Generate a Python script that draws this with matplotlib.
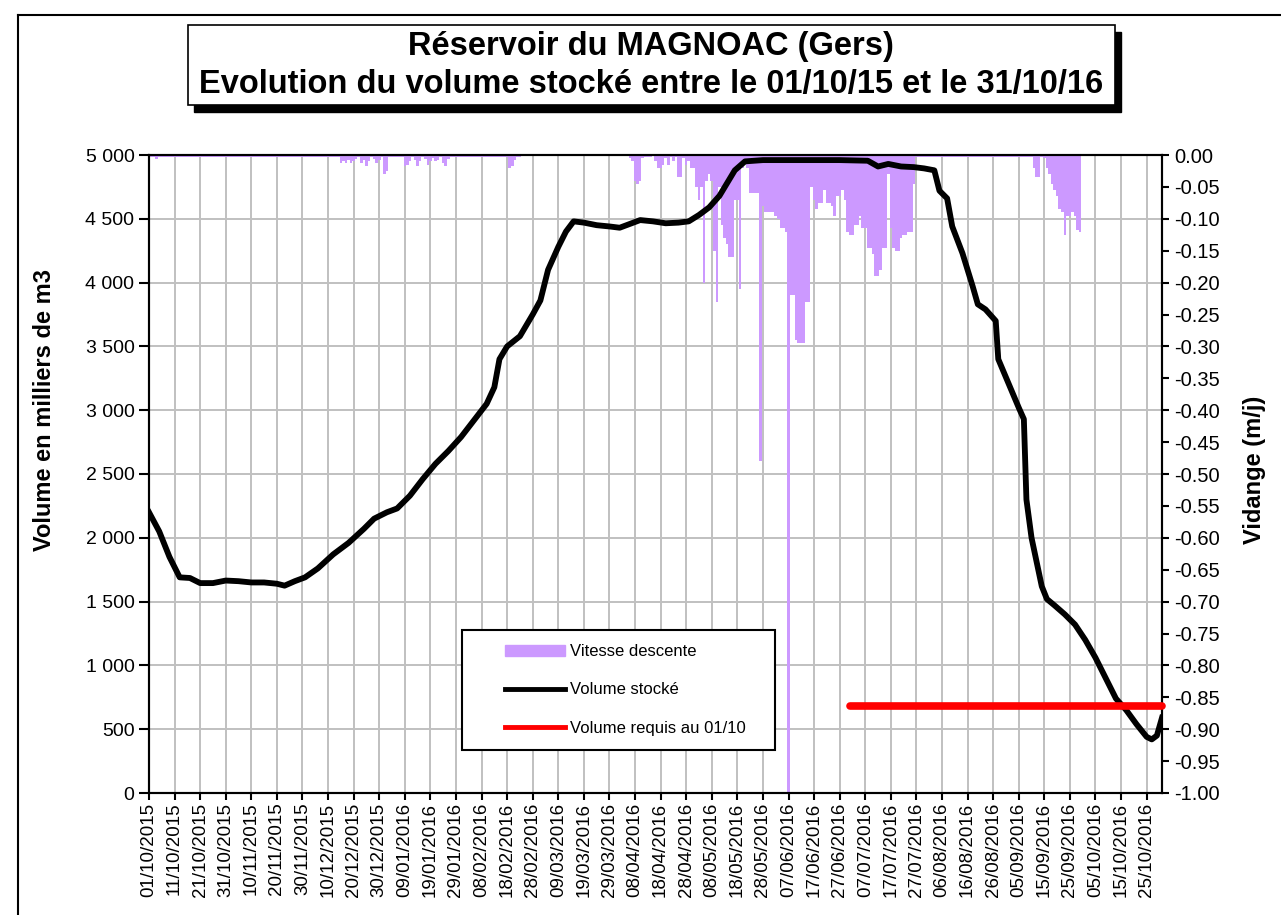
import matplotlib
matplotlib.use('Agg')
import matplotlib.pyplot as plt
import matplotlib.dates as mdates
from matplotlib.patches import Patch, Rectangle
from matplotlib.lines import Line2D
from matplotlib.legend_handler import HandlerPatch, HandlerLine2D
import numpy as np
import pandas as pd

plt.rcParams['font.family'] = ['Liberation Sans', 'DejaVu Sans']

debut = pd.Timestamp('2015-10-01')
fin = pd.Timestamp('2016-10-31')

# vitesse de descente (m/j), une valeur par jour depuis le 01/10/2015 (10 jours par ligne)
vidange = [
    -0.003, -0.003, -0.003, -0.006, -0.003, -0.003, -0.003, -0.003, -0.003, -0.003,
    -0.003, -0.003, -0.003, -0.003, -0.003, -0.003, -0.003, -0.003, -0.003, -0.003,
    -0.003, -0.003, -0.003, -0.003, -0.003, -0.003, -0.003, -0.003, -0.003, -0.003,
    -0.003, -0.003, -0.003, -0.003, -0.003, -0.003, -0.003, -0.003, -0.003, -0.003,
    -0.003, -0.003, -0.003, -0.003, -0.003, -0.003, -0.003, -0.003, -0.003, -0.003,
    -0.003, -0.003, -0.003, -0.003, -0.003, -0.003, -0.003, -0.003, -0.003, -0.003,
    -0.003, -0.003, -0.003, -0.003, -0.003, -0.003, -0.003, -0.003, -0.003, -0.003,
    -0.003, -0.003, -0.003, -0.003, -0.003, -0.012, -0.010, -0.013, -0.008, -0.012,
    -0.010, -0.006, -0.003, -0.012, -0.008, -0.018, -0.010, -0.003, -0.006, -0.012,
    -0.008, -0.003, -0.030, -0.025, -0.003, -0.003, -0.003, -0.003, -0.003, -0.003,
    -0.018, -0.015, -0.010, -0.003, -0.008, -0.018, -0.010, -0.003, -0.006, -0.015,
    -0.010, -0.005, -0.010, -0.008, -0.003, -0.012, -0.018, -0.006, -0.003, -0.003,
    -0.003, -0.003, -0.003, -0.003, -0.003, -0.003, -0.003, -0.003, -0.003, -0.003,
    -0.003, -0.003, -0.003, -0.003, -0.003, -0.003, -0.003, -0.003, -0.003, -0.003,
    -0.003, -0.020, -0.018, -0.008, -0.003, -0.003, 0, 0, 0, 0,
    0, 0, 0, 0, 0, 0, 0, 0, 0, 0,
    0, 0, 0, 0, 0, 0, 0, 0, 0, 0,
    0, 0, 0, 0, 0, 0, 0, 0, 0, 0,
    0, 0, 0, 0, 0, 0, 0, 0, -0.005, -0.010,
    -0.040, -0.045, -0.040, -0.005, -0.003, -0.003, -0.003, 0, -0.010, -0.020,
    -0.020, -0.015, -0.005, -0.015, -0.003, -0.010, -0.003, -0.035, -0.035, -0.005,
    -0.015, -0.010, -0.020, -0.020, -0.050, -0.070, -0.050, -0.200, -0.040, -0.030,
    -0.040, -0.150, -0.230, -0.050, -0.110, -0.130, -0.140, -0.160, -0.160, -0.070,
    -0.070, -0.210, -0.020, -0.010, -0.020, -0.060, -0.060, -0.060, -0.060, -0.480,
    -0.080, -0.090, -0.090, -0.090, -0.090, -0.095, -0.100, -0.115, -0.115, -0.120,
    -1.000, -0.220, -0.220, -0.290, -0.295, -0.295, -0.295, -0.230, -0.230, -0.050,
    -0.070, -0.085, -0.075, -0.075, -0.055, -0.075, -0.075, -0.080, -0.095, -0.065,
    -0.065, -0.055, -0.070, -0.120, -0.125, -0.125, -0.110, -0.110, -0.095, -0.115,
    -0.115, -0.145, -0.145, -0.155, -0.190, -0.190, -0.180, -0.145, -0.145, -0.030,
    -0.115, -0.145, -0.150, -0.150, -0.130, -0.125, -0.125, -0.120, -0.120, -0.045,
    -0.003, -0.003, -0.003, -0.003, -0.003, -0.003, -0.003, -0.003, -0.003, -0.003,
    -0.003, -0.003, -0.003, -0.003, -0.003, -0.003, -0.003, -0.003, -0.003, -0.003,
    -0.003, -0.003, -0.003, -0.003, -0.003, -0.003, -0.003, -0.003, -0.003, -0.003,
    -0.003, -0.003, -0.003, -0.003, -0.003, -0.003, -0.003, -0.003, -0.003, -0.003,
    -0.003, -0.003, -0.003, -0.003, -0.003, -0.003, -0.020, -0.035, -0.035, -0.003,
    -0.005, -0.020, -0.030, -0.045, -0.055, -0.065, -0.085, -0.090, -0.125, -0.095,
    -0.095, -0.090, -0.095, -0.118, -0.120, 0, 0, 0, 0, 0,
    0, 0, 0, 0, 0, 0, 0, 0, 0, 0,
    0, 0, 0, 0, 0, 0, 0, 0, 0, 0,
    0, 0, 0, 0, 0, 0, 0,
]

# volume stocke (milliers de m3), jours comptes depuis le 01/10/2015
vol_jour = [0, 4, 8, 12, 16, 20, 25, 30, 35, 40, 45, 50, 53, 57, 61, 66, 72, 78,
            84, 88, 93, 97, 102, 107, 112, 117, 122, 127, 132, 135, 137, 140, 145,
            150, 153, 156, 160, 163, 166, 170, 175, 180, 184, 188, 192, 197, 202,
            207, 211, 215, 219, 223, 226, 229, 233, 240, 250, 260, 270, 281, 285,
            289, 294, 299, 303, 307, 309, 312, 314, 318, 322, 324, 327, 331, 332,
            336, 340, 342, 343, 345, 349, 351, 354, 358, 362, 366, 370, 374, 378,
            382, 386, 390, 392, 394, 396]
vol_stock = [2200, 2050, 1850, 1690, 1685, 1645, 1645, 1665, 1660, 1650, 1650, 1640,
             1625, 1660, 1690, 1760, 1870, 1960, 2070, 2150, 2200, 2230, 2330, 2460,
             2580, 2680, 2790, 2920, 3050, 3180, 3400, 3500, 3580, 3750, 3860, 4100,
             4280, 4400, 4480, 4470, 4450, 4440, 4430, 4460, 4490, 4480, 4465, 4470,
             4480, 4530, 4590, 4680, 4780, 4880, 4950, 4960, 4960, 4960, 4960, 4955,
             4910, 4930, 4910, 4905, 4895, 4880, 4720, 4660, 4440, 4230, 3970, 3830,
             3790, 3700, 3400, 3210, 3020, 2930, 2300, 2000, 1620, 1520, 1470, 1400,
             1320, 1200, 1060, 900, 740, 650, 540, 440, 420, 450, 590]

requis_debut = pd.Timestamp('2016-07-01')
requis = 680

jours = pd.date_range(debut, fin, freq='D')
dates_vol = debut + pd.to_timedelta(vol_jour, unit='D')

fig = plt.figure(figsize=(12.81, 9.15), dpi=100)
ax = fig.add_axes([149/1281, 1 - 793/915, 1013/1281, 638/915])
ax2 = ax.twinx()
ax.set_zorder(2)
ax2.set_zorder(1)
ax.patch.set_visible(False)

# barres de vidange sur l'axe de droite
ax2.bar(jours, vidange, width=1.0, color='#CC99FF', linewidth=0, zorder=2)
ax2.set_ylim(-1, 0)
ax2.set_yticks(np.round(np.arange(-1, 0.001, 0.05), 2))
ax2.yaxis.set_major_formatter(plt.FuncFormatter(lambda v, p: f'{abs(v):.2f}' if abs(v) < 1e-9 else f'{v:.2f}'))

# volume sur l'axe de gauche
ax.plot(dates_vol, vol_stock, color='black', lw=4.2, solid_joinstyle='round', zorder=3)
ax.plot([requis_debut, fin], [requis, requis], color='red', lw=5.5,
        solid_capstyle='round', zorder=3, clip_on=False)
ax.set_ylim(0, 5000)
yt = np.arange(0, 5001, 500)
ax.set_yticks(yt)
ax.set_yticklabels([f'{v:,}'.replace(',', ' ') for v in yt])

ax.set_xlim(debut, fin)
xt = pd.date_range(debut, periods=40, freq='10D')
ax.set_xticks(xt)
ax.xaxis.set_major_formatter(mdates.DateFormatter('%d/%m/%Y'))
plt.setp(ax.get_xticklabels(), rotation=90)

# quadrillage sous les barres
for t in xt:
    ax2.axvline(t, color='#C0C0C0', lw=1.4, zorder=0)
for v in yt:
    ax2.axhline(v / 5000 - 1, color='#C0C0C0', lw=1.4, zorder=0)

for a in (ax, ax2):
    for s in a.spines.values():
        s.set_linewidth(1.5)
        s.set_color('black')
ax.tick_params(axis='y', direction='out', length=7, width=1.5, labelsize=14)
ax.tick_params(axis='x', direction='out', length=5, width=1.5, labelsize=13.5, pad=2)
ax2.tick_params(axis='y', direction='out', length=5, width=1.5, labelsize=14.5)

fig.text(45/1281, 1 - 410/915, 'Volume en milliers de m3', rotation=90, fontsize=17,
         fontweight='bold', ha='center', va='center')
fig.text(1255/1281, 1 - 470/915, 'Vidange (m/j)', rotation=90, fontsize=17,
         fontweight='bold', ha='center', va='center')

handles = [Patch(color='#CC99FF'), Line2D([], [], color='black', lw=3.5),
           Line2D([], [], color='red', lw=3.5)]
labels = ['Vitesse descente', 'Volume stocké', 'Volume requis au 01/10']
leg = ax.legend(handles, labels, loc='upper left', bbox_to_anchor=(0.309, 0.067, 0.309, 0.1885),
                mode='expand', fontsize=12, labelspacing=1.4, handlelength=5.3,
                handleheight=0.6, borderpad=0.85, handletextpad=0.3, fancybox=False,
                framealpha=1, edgecolor='black', borderaxespad=0,
                handler_map={Patch: HandlerPatch(xpad=1.7), Line2D: HandlerLine2D(xpad=1.7)})
leg.get_frame().set_linewidth(1.5)

# cadre du titre avec ombre
fig.patches.append(Rectangle((194/1281, 1 - 112/915), 927/1281, 80/915, transform=fig.transFigure,
                             facecolor='black', edgecolor='black', zorder=1))
fig.patches.append(Rectangle((188/1281, 1 - 105/915), 927/1281, 80/915, transform=fig.transFigure,
                             facecolor='white', edgecolor='black', lw=1.2, zorder=2))
fig.text(651/1281, 1 - 47/915, 'Réservoir du MAGNOAC (Gers)', fontsize=23.5, fontweight='bold',
         ha='center', va='center', zorder=3)
fig.text(651/1281, 1 - 84/915, 'Evolution du volume stocké entre le 01/10/15 et le 31/10/16',
         fontsize=23.5, fontweight='bold', ha='center', va='center', zorder=3)

# bordure exterieure
fig.add_artist(Line2D([18/1281, 18/1281], [0, 1 - 15/915], color='black', lw=1.5,
                      transform=fig.transFigure))
fig.add_artist(Line2D([18/1281, 1], [1 - 15/915, 1 - 15/915], color='black', lw=1.5,
                      transform=fig.transFigure))

fig.savefig('out.png', dpi=100)
